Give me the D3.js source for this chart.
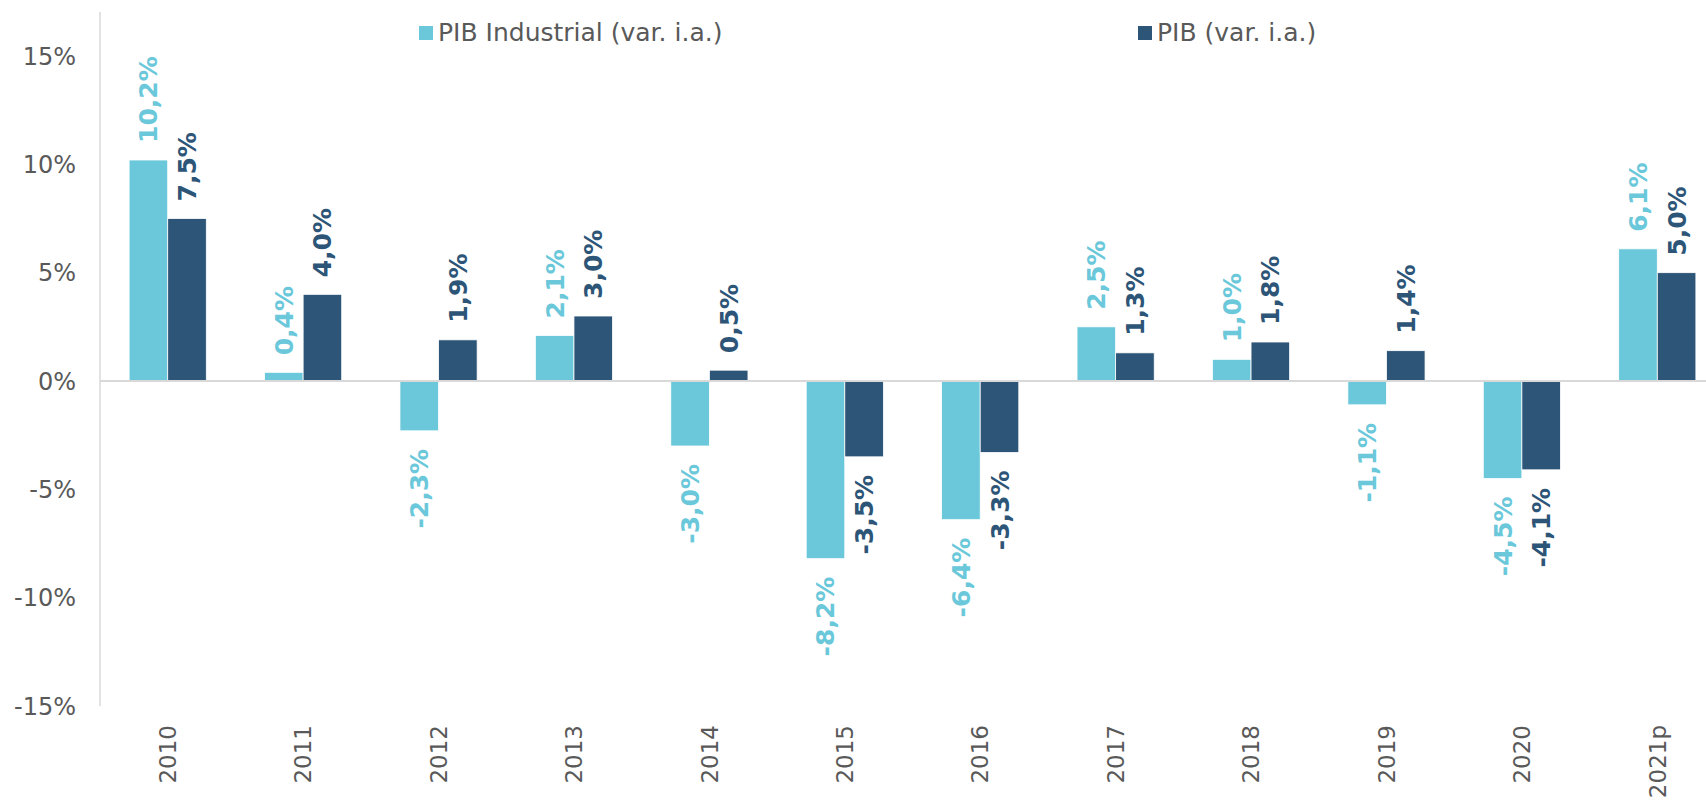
<!DOCTYPE html>
<html>
<head>
<meta charset="utf-8">
<script src="https://cdn.jsdelivr.net/npm/d3@7"></script>
<style>
  body { margin: 0; background: #fff; }
  svg { display: block; }
</style>
</head>
<body>
<div id="chart"></div>
<script>
// chart data
const years = ["2010", "2011", "2012", "2013", "2014", "2015", "2016", "2017", "2018", "2019", "2020", "2021p"];
const pibIndustrial = [10.2, 0.4, -2.3, 2.1, -3.0, -8.2, -6.4, 2.5, 1.0, -1.1, -4.5, 6.1];
const pib = [7.5, 4.0, 1.9, 3.0, 0.5, -3.5, -3.3, 1.3, 1.8, 1.4, -4.1, 5.0];
const yTicks = [-15, -10, -5, 0, 5, 10, 15];
const seriesNames = ["PIB Industrial (var. i.a.)", "PIB (var. i.a.)"];

const colors = ["#6ac8da", "#2d5577"];
const grey = "#595959";

const width = 1706, height = 800;

let svg = d3.select("#chart")
    .append("svg")
    .attr("width", width)
    .attr("height", height);

// scales: the plot runs a bit past the right edge, like the original
let x = d3.scaleBand()
    .domain(years)
    .range([100, 1725])
    .paddingInner(0.43)
    .paddingOuter(0.215);

let xInner = d3.scaleBand()
    .domain([0, 1])
    .range([0, x.bandwidth()]);

let y = d3.scaleLinear()
    .domain([-15, 15])
    .range([706, 56]);

// y tick labels
svg.append("g")
    .selectAll("text")
    .data(yTicks)
    .enter()
    .append("text")
    .attr("x", 76)
    .attr("y", d => y(d))
    .attr("dy", "0.36em")
    .attr("text-anchor", "end")
    .style("font-family", "DejaVu Sans")
    .style("font-size", "24px")
    .style("fill", grey)
    .text(d => d + "%");

// bars
let rows = years.map((yr, i) => ({ year: yr, values: [pibIndustrial[i], pib[i]] }));

let groups = svg.append("g")
    .selectAll("g")
    .data(rows)
    .enter()
    .append("g")
    .attr("transform", d => "translate(" + x(d.year) + ",0)");

groups.selectAll("rect")
    .data(d => d.values.map((v, s) => ({ v: v, s: s })))
    .enter()
    .append("rect")
    .attr("x", d => xInner(d.s))
    .attr("width", xInner.bandwidth())
    .attr("y", d => y(Math.max(0, d.v)))
    .attr("height", d => Math.abs(y(d.v) - y(0)))
    .style("fill", d => colors[d.s])
    .style("stroke", "#fff")
    .style("stroke-width", 0.8);

// data labels, rotated
groups.selectAll("text")
    .data(d => d.values.map((v, s) => ({ v: v, s: s })))
    .enter()
    .append("text")
    .attr("transform", d => {
        let cx = xInner(d.s) + xInner.bandwidth() / 2;
        let cy = d.v >= 0 ? y(d.v) - 17 : y(d.v) + 18;
        return "translate(" + cx + "," + cy + ") rotate(-90)";
    })
    .attr("dy", "0.36em")
    .attr("text-anchor", d => d.v >= 0 ? "start" : "end")
    .style("font-family", "DejaVu Sans")
    .style("font-weight", "bold")
    .style("font-size", "25px")
    .style("fill", d => colors[d.s])
    .text(d => d.v.toFixed(1).replace(".", ",") + "%");

// axis lines
svg.append("line")
    .attr("x1", 100).attr("x2", 100)
    .attr("y1", 12).attr("y2", y(-15))
    .style("stroke", "#d9d9d9")
    .style("stroke-width", 1.5);

svg.append("line")
    .attr("x1", 100).attr("x2", width)
    .attr("y1", y(0)).attr("y2", y(0))
    .style("stroke", "#d9d9d9")
    .style("stroke-width", 2);

// x tick labels
svg.append("g")
    .selectAll("text")
    .data(years)
    .enter()
    .append("text")
    .attr("transform", d => "translate(" + (x(d) + x.bandwidth() / 2) + ",725) rotate(-90)")
    .attr("dy", "0.36em")
    .attr("text-anchor", "end")
    .style("font-family", "DejaVu Sans")
    .style("font-size", "23px")
    .style("fill", grey)
    .text(d => d);

// legend
let legendX = [419, 1138];

let legend = svg.append("g")
    .selectAll("g")
    .data(seriesNames)
    .enter()
    .append("g")
    .attr("transform", (d, i) => "translate(" + legendX[i] + ",26)");

legend.append("rect")
    .attr("width", 14)
    .attr("height", 14)
    .style("fill", (d, i) => colors[i]);

legend.append("text")
    .attr("x", 19)
    .attr("y", 14.5)
    .style("font-family", "DejaVu Sans")
    .style("font-size", "25px")
    .style("fill", grey)
    .text(d => d);
</script>
</body>
</html>
